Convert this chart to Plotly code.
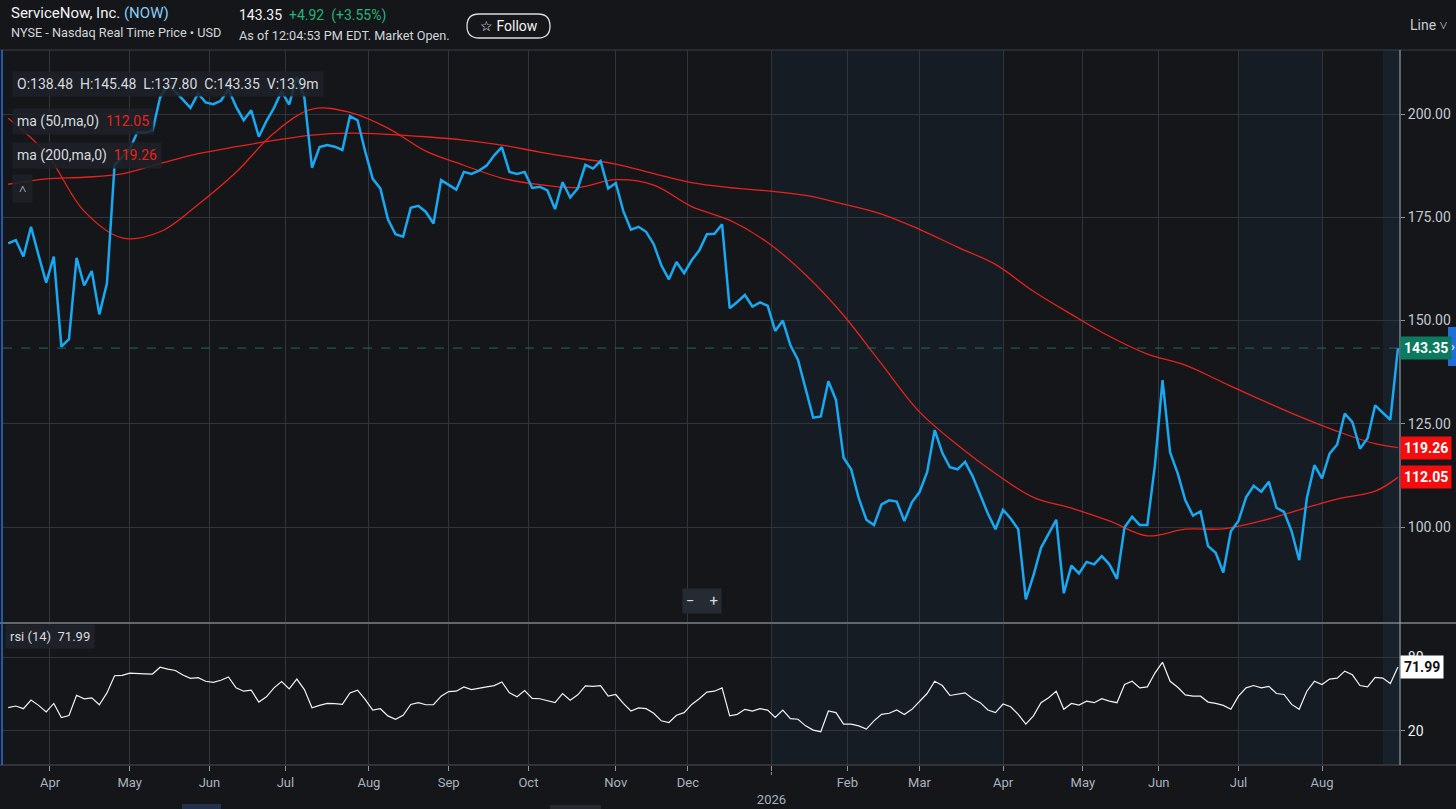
import pandas as pd
import plotly.graph_objects as go

# NYSE closures inside the visible window (chart skips them like weekends)
HOLIDAYS = ["2025-04-18", "2025-05-26", "2025-06-19", "2025-07-04", "2025-09-01",
            "2025-11-27", "2025-12-25", "2026-01-01", "2026-01-19", "2026-02-16",
            "2026-04-03", "2026-05-25", "2026-06-19", "2026-07-03"]
LAST_SESSION = "2026-08-31"

# closing price, read every second session
price = [
    168.7, 169.5, 165.5, 172.7, 165.8, 159.2, 165.5, 143.7, 145.5, 165.2,
    158.5, 162.0, 151.5, 159.0, 187.6, 189.5, 191.5, 195.6, 195.5, 196.0,
    204.0, 207.0, 205.5, 203.5, 201.5, 205.0, 202.8, 202.4, 203.2, 206.0,
    201.8, 198.5, 200.9, 194.5, 198.3, 201.5, 205.5, 202.3, 209.0, 204.0,
    187.0, 192.0, 192.5, 192.1, 191.3, 199.5, 198.5, 191.0, 184.3, 182.0,
    174.5, 170.9, 170.3, 177.3, 177.8, 176.3, 173.5, 184.0, 182.9, 181.7,
    186.0, 185.5, 186.3, 187.5, 190.0, 192.0, 186.0, 185.5, 186.0, 182.1,
    182.4, 181.5, 177.0, 183.5, 179.8, 182.0, 187.7, 186.8, 188.6, 182.0,
    183.3, 176.5, 172.0, 172.7, 171.5, 168.5, 163.4, 160.0, 164.2, 161.5,
    164.6, 167.0, 170.9, 171.0, 173.3, 153.0, 154.5, 156.2, 153.4, 154.4,
    153.6, 147.5, 150.0, 144.0, 140.5, 133.2, 126.5, 126.8, 135.3, 130.8,
    116.8, 114.0, 107.0, 101.8, 100.5, 105.5, 106.5, 106.2, 101.5, 106.0,
    108.5, 113.3, 123.5, 118.0, 114.5, 114.0, 115.8, 112.3, 108.0, 103.3,
    99.5, 104.2, 102.1, 99.5, 82.5, 88.3, 95.0, 98.5, 101.8, 84.0,
    90.7, 88.8, 91.6, 91.0, 93.0, 91.0, 87.5, 100.0, 102.5, 100.5,
    100.5, 115.0, 135.6, 118.1, 113.0, 106.5, 102.8, 103.8, 95.4, 93.8,
    89.0, 99.0, 101.5, 107.2, 110.0, 108.6, 111.0, 104.7, 103.7, 99.0,
    92.0, 107.0, 115.0, 111.8, 117.8, 120.0, 127.5, 125.4, 119.0, 121.5,
    129.5, 127.7, 126.0, 143.35,
]

# moving averages, read every tenth session (last point = latest)
ma50 = [199.0, 190.5, 176.5, 170.0, 171.5, 178.1, 185.9, 195.4, 201.2, 200.4,
        196.6, 191.0, 187.6, 184.5, 182.9, 182.2, 184.1, 182.8, 177.6, 174.3,
        168.9, 161.1, 151.3, 139.5, 127.9, 119.9, 113.0, 107.2, 104.6, 101.5,
        97.9, 99.5, 99.6, 101.5, 104.2, 106.8, 108.7, 112.05]
ma200 = [183.0, 184.3, 184.7, 185.5, 188.0, 190.4, 192.1, 193.6, 194.9, 195.4,
         195.1, 194.5, 193.7, 192.5, 190.8, 189.3, 187.9, 185.6, 183.4, 182.2,
         181.4, 180.3, 178.2, 175.8, 172.1, 167.8, 163.6, 157.1, 151.5, 146.2,
         141.9, 139.2, 135.0, 130.8, 126.8, 123.2, 120.2, 119.26]

# rsi(14), same sessions as price
rsi = [
    38.8, 40.2, 38.0, 45.0, 40.7, 35.4, 42.3, 30.8, 32.4, 49.0,
    46.1, 46.9, 41.2, 50.9, 64.9, 65.2, 67.1, 67.1, 66.5, 66.3,
    71.9, 70.3, 69.2, 65.5, 62.8, 63.3, 60.4, 59.5, 61.2, 63.9,
    55.0, 52.3, 53.1, 43.4, 47.7, 55.0, 60.1, 54.2, 62.2, 53.6,
    38.8, 40.7, 42.3, 42.1, 41.5, 50.9, 53.1, 45.6, 36.9, 38.0,
    32.1, 29.4, 32.6, 41.5, 42.9, 41.2, 41.2, 48.2, 52.0, 52.3,
    55.8, 53.6, 55.0, 55.8, 56.9, 59.8, 50.9, 47.7, 52.8, 46.4,
    46.1, 44.5, 42.9, 50.4, 45.0, 49.3, 56.6, 56.3, 56.9, 48.2,
    49.6, 42.3, 36.1, 38.6, 38.0, 34.3, 28.1, 26.7, 32.6, 34.8,
    41.5, 46.1, 51.5, 52.3, 55.0, 32.1, 33.4, 37.5, 36.1, 38.0,
    36.9, 30.8, 36.9, 29.9, 29.4, 24.0, 20.5, 19.2, 36.1, 34.8,
    25.4, 25.4, 24.0, 21.3, 28.1, 33.4, 34.3, 36.9, 33.2, 37.5,
    43.7, 50.4, 60.4, 56.9, 48.8, 49.6, 50.9, 46.1, 42.9, 36.9,
    34.8, 41.8, 39.6, 33.4, 25.4, 32.1, 42.9, 46.9, 52.3, 37.5,
    42.3, 41.0, 44.2, 42.9, 46.1, 44.2, 42.9, 57.7, 60.4, 55.0,
    55.8, 67.1, 76.0, 60.4, 55.5, 49.3, 48.2, 48.2, 43.4, 42.3,
    40.7, 37.5, 48.2, 55.0, 56.9, 55.0, 56.3, 50.4, 49.6, 41.5,
    37.5, 52.3, 60.4, 57.7, 62.2, 63.0, 68.7, 65.7, 56.9, 55.8,
    63.6, 63.0, 58.5, 71.99,
]

month_ticks = ["2025-04-01", "2025-05-01", "2025-06-02", "2025-07-01", "2025-08-01",
               "2025-09-02", "2025-10-01", "2025-11-03", "2025-12-01", "2026-01-02",
               "2026-02-02", "2026-03-02", "2026-04-01", "2026-05-01", "2026-06-01",
               "2026-07-01", "2026-08-03"]
month_labels = ["Apr", "May", "Jun", "Jul", "Aug", "Sep", "Oct", "Nov", "Dec",
                "<br>2026", "Feb", "Mar", "Apr", "May", "Jun", "Jul", "Aug"]
price_ticks = [100, 125, 150, 175, 200]

# shaded session blocks
bands = [("2026-01-02", "2026-04-01", "#151c24"),
         ("2026-07-01", "2026-08-03", "#151c24"),
         ("2026-08-25", "2026-08-31 13:00", "#18202a")]


def every_other(n):
    s = pd.bdate_range(end=LAST_SESSION, periods=2 * n, freq="C", holidays=HOLIDAYS)
    return s[1::2]


price_dates = every_other(len(price))
rsi_dates = every_other(len(rsi))
ma_dates = list(price_dates[::5][:len(ma50) - 1]) + [price_dates[-1]]

W, H = 1456, 809
L, R, T, B = 3, 56, 50, 44
FONT = "Roboto"
BG = "#14161a"
GRID = "#30353c"
RED = "#e8221c"
BLUE = "#19a9f2"
SPLIT = (H - B - 623) / (H - T - B)


def px(x):
    return (x - L) / (W - L - R)


def py(y):
    return (H - B - y) / (H - T - B)


def note(text, x, y, size=13, color="#d5d8dc", bg="rgba(0,0,0,0)", anchor="left", pad=4):
    return dict(text=text, x=px(x), y=py(y), xref="paper", yref="paper",
                xanchor=anchor, yanchor="middle", showarrow=False, bgcolor=bg,
                borderpad=pad, font=dict(family=FONT, size=size, color=color))


def tag(text, y, yref, bg, fg="#ffffff"):
    return dict(text="<b>%s</b>" % text, x=1, xref="paper", y=y, yref=yref,
                xanchor="left", yanchor="middle", showarrow=False, bgcolor=bg,
                borderpad=3, font=dict(family=FONT, size=14, color=fg))


def pill(x0, y0, x1, y1, r):
    rx = r / (W - L - R)
    ry = r / (H - T - B)
    a, b, c, d = px(x0), py(y1), px(x1), py(y0)
    return (f"M {a + rx},{b} L {c - rx},{b} Q {c},{b} {c},{b + ry} L {c},{d - ry} "
            f"Q {c},{d} {c - rx},{d} L {a + rx},{d} Q {a},{d} {a},{d - ry} "
            f"L {a},{b + ry} Q {a},{b} {a + rx},{b} Z")


fig = go.Figure()
fig.add_trace(go.Scatter(x=ma_dates, y=ma200, mode="lines", hoverinfo="skip",
                         line=dict(color=RED, width=1.3, shape="spline")))
fig.add_trace(go.Scatter(x=ma_dates, y=ma50, mode="lines", hoverinfo="skip",
                         line=dict(color=RED, width=1.3, shape="spline")))
fig.add_trace(go.Scatter(x=price_dates, y=price, mode="lines", hoverinfo="skip",
                         line=dict(color=BLUE, width=2.5)))
fig.add_trace(go.Scatter(x=rsi_dates, y=rsi, mode="lines", hoverinfo="skip",
                         line=dict(color="#f2f2f2", width=1.2), xaxis="x2", yaxis="y2"))

breaks = [dict(bounds=["sat", "mon"]), dict(values=HOLIDAYS)]
x_range = ["2025-03-13 15:00", "2026-08-31 13:00"]
xcommon = dict(range=x_range, rangebreaks=breaks, tickvals=month_ticks,
               showgrid=True, gridcolor=GRID, gridwidth=1, zeroline=False,
               showline=False, domain=[0, 1])

shapes = []
for x0, x1, col in bands:
    shapes.append(dict(type="rect", xref="x", yref="paper", x0=x0, x1=x1, y0=0, y1=1,
                       fillcolor=col, line_width=0, layer="below"))
shapes += [
    # dashed last-price line
    dict(type="line", xref="paper", yref="y", x0=0, x1=1, y0=143.35, y1=143.35,
         line=dict(color="#1f6b58", width=1, dash="dash")),
    # header rule, panel divider, bottom axis, right axis
    dict(type="line", xref="paper", yref="paper", x0=px(0), x1=px(W), y0=py(50), y1=py(50),
         line=dict(color="#3a3f46", width=1)),
    dict(type="line", xref="paper", yref="paper", x0=px(0), x1=px(W), y0=py(623), y1=py(623),
         line=dict(color="#62676e", width=2)),
    dict(type="line", xref="paper", yref="paper", x0=px(0), x1=px(W), y0=py(765), y1=py(765),
         line=dict(color="#4a4f56", width=1)),
    dict(type="line", xref="paper", yref="paper", x0=1, x1=1, y0=0, y1=1,
         line=dict(color="#aab4bf", width=1)),
    dict(type="line", xref="paper", yref="paper", x0=px(2), x1=px(2), y0=0, y1=1,
         line=dict(color="#2b6fd6", width=1.5)),
    # dotted year tick
    dict(type="line", xref="x2", yref="paper", x0="2026-01-02", x1="2026-01-02",
         y0=py(766), y1=py(778), line=dict(color="#8c96a1", width=1, dash="dot")),
    # follow button
    dict(type="path", xref="paper", yref="paper", path=pill(467, 14, 550, 38, 12),
         line=dict(color="#d9dadc", width=1.3), fillcolor="rgba(0,0,0,0)"),
    # blue side tab
    dict(type="rect", xref="paper", yref="paper", x0=px(1448), x1=px(1457),
         y0=py(366), y1=py(327), fillcolor="#1f6fd8", line_width=0),
    # clipped toolbar bits at the bottom edge
    dict(type="rect", xref="paper", yref="paper", x0=px(182), x1=px(221),
         y0=py(812), y1=py(804), fillcolor="#23324a", line_width=0),
    dict(type="rect", xref="paper", yref="paper", x0=px(550), x1=px(601),
         y0=py(812), y1=py(805), fillcolor="#262a30", line_width=0),
]

box = "rgba(30,34,40,0.88)"
annotations = [
    note("ServiceNow, Inc. <span style='color:#86cdf6'>(NOW)</span>", 10, 13, 15, "#f2f3f4", pad=0),
    note("NYSE - Nasdaq Real Time Price • USD", 10, 32, 12.7, "#d2d5d9", pad=0),
    note("143.35  <span style='color:#22b57c'>+4.92  (+3.55%)</span>", 238, 16, 14, "#f4f4f4", pad=0),
    note("As of 12:04:53 PM EDT. Market Open.", 238, 36, 12.7, "#d2d5d9", pad=0),
    note("☆ Follow", 508.5, 26, 14, "#f4f4f4", anchor="center", pad=0),
    note("Line ˅", 1409, 25, 14, "#c8cbcf", pad=0),
    note("›", 1452.5, 346, 13, "#ffffff", anchor="center", pad=0),
    note("O:138.48  H:145.48  L:137.80  C:143.35  V:13.9m", 12, 84, 14, "#d7dadf", box),
    note("ma (50,ma,0)  <span style='color:#e8221c'>112.05</span>", 12, 122, 14, "#d7dadf", box),
    note("ma (200,ma,0)  <span style='color:#e8221c'>119.26</span>", 12, 155, 14, "#d7dadf", box),
    note("˄", 22, 189, 13, "#d7dadf", box, anchor="center", pad=6),
    note("−    +", 702, 601, 15, "#d7dadf", "#262b32", anchor="center", pad=3),
    note("rsi (14)  71.99", 5, 636, 13, "#d7dadf", "#1e2228", pad=4),
    # right-edge value tags
    tag("143.35", 143.35, "y", "#0c7a5e"),
    tag("119.26", 119.26, "y", "#f50c0c"),
    tag("112.05", 112.05, "y", "#f50c0c"),
    tag("71.99", 71.99, "y2", "#ffffff", "#111111"),
]

fig.update_layout(
    width=W, height=H,
    margin=dict(l=L, r=R, t=T, b=B),
    paper_bgcolor=BG, plot_bgcolor=BG,
    showlegend=False,
    font=dict(family=FONT, color="#c4c9cf"),
    xaxis=dict(**xcommon, anchor="y", showticklabels=False, ticks=""),
    xaxis2=dict(**xcommon, anchor="y2", ticktext=month_labels, ticks="outside",
                ticklen=5, tickcolor="#8c96a1",
                tickfont=dict(family=FONT, size=13, color="#a9b3be")),
    yaxis=dict(domain=[SPLIT, 1], anchor="x", side="right", range=[76.8, 215.5],
               tickvals=price_ticks, ticktext=[f"{v:.2f}" for v in price_ticks],
               ticks="outside", ticklen=4, tickcolor="#8c96a1",
               showgrid=True, gridcolor=GRID, zeroline=False,
               tickfont=dict(family=FONT, size=14, color="#c4c9cf")),
    yaxis2=dict(domain=[0, SPLIT], anchor="x2", side="right", range=[-8, 108],
                tickvals=[20, 80], ticks="outside", ticklen=4, tickcolor="#8c96a1",
                showgrid=True, gridcolor=GRID, zeroline=False,
                tickfont=dict(family=FONT, size=14, color="#f0f0f0")),
    shapes=shapes,
    annotations=annotations,
)

# page has a default 8px body margin; drop it so the figure fills the window
fig.write_html("out.html", config={"displayModeBar": False},
               post_script="document.body.style.margin='0';"
                           "document.body.style.background='%s';" % BG)
